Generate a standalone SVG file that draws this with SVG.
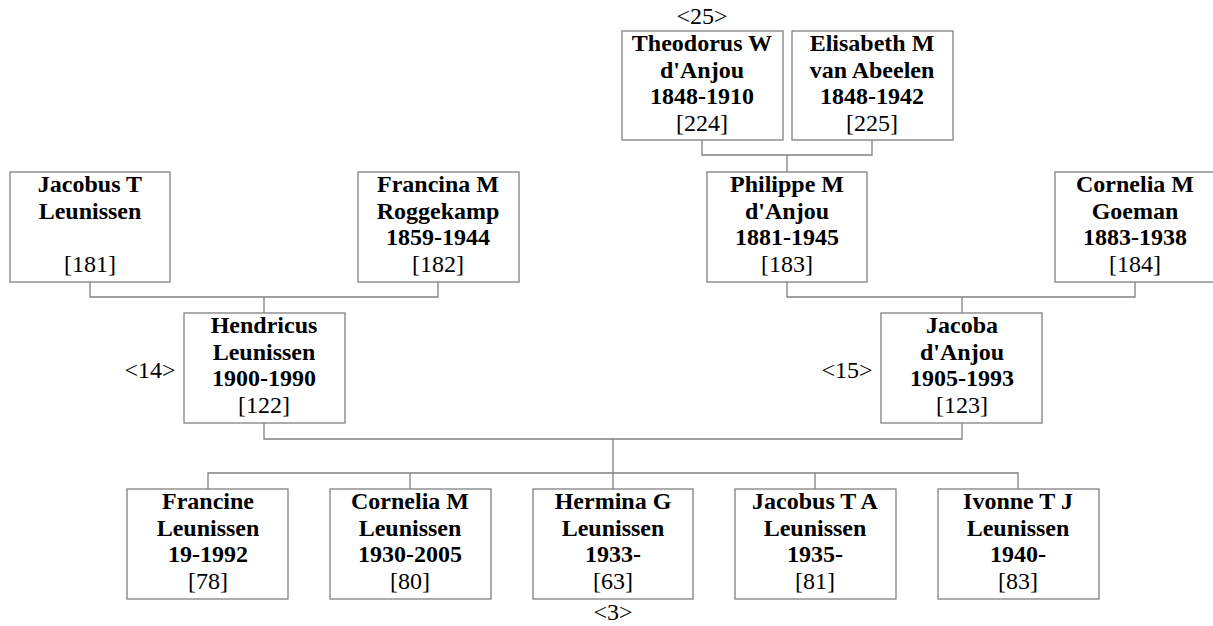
<svg xmlns="http://www.w3.org/2000/svg" width="1213" height="626" viewBox="0 0 1213 626">
<style>
.box{fill:#fff;stroke:#808080;stroke-width:1.3}
.b{font-family:'Liberation Serif','Times New Roman',serif;font-size:24px;font-weight:bold;fill:#000;text-anchor:middle}
.r{font-family:'Liberation Serif','Times New Roman',serif;font-size:24px;fill:#000;text-anchor:middle}
.c{fill:none;stroke:#808080;stroke-width:1.3}
</style>
<rect width="1213" height="626" fill="#fff"/>
<g id="connectors">
<path class="c" d="M702 140V155H872V140M787 155V172"/>
<path class="c" d="M90 282V297H438V282M264 297V313"/>
<path class="c" d="M787 282V297H1135V282M962 297V313"/>
<path class="c" d="M264 423V439H962V423M613 439V489"/>
<path class="c" d="M208 489V473H1018V489M410 473V489M815 473V489"/>
</g>
<g id="n224"><rect class="box" x="622" y="31" width="161" height="109"/>
<text class="b" x="702" y="51">Theodorus W</text><text class="b" x="702" y="78">d'Anjou</text><text class="b" x="702" y="104">1848-1910</text><text class="r" x="702" y="131">[224]</text></g>
<text class="r" x="702" y="24">&lt;25&gt;</text>
<g id="n225"><rect class="box" x="792" y="31" width="161" height="109"/>
<text class="b" x="872" y="51">Elisabeth M</text><text class="b" x="872" y="78">van Abeelen</text><text class="b" x="872" y="104">1848-1942</text><text class="r" x="872" y="131">[225]</text></g>
<g id="n181"><rect class="box" x="10" y="172" width="160" height="110"/>
<text class="b" x="90" y="192">Jacobus T</text><text class="b" x="90" y="219">Leunissen</text><text class="r" x="90" y="272">[181]</text></g>
<g id="n182"><rect class="box" x="358" y="172" width="161" height="110"/>
<text class="b" x="438" y="192">Francina M</text><text class="b" x="438" y="219">Roggekamp</text><text class="b" x="438" y="245">1859-1944</text><text class="r" x="438" y="272">[182]</text></g>
<g id="n183"><rect class="box" x="707" y="172" width="160" height="110"/>
<text class="b" x="787" y="192">Philippe M</text><text class="b" x="787" y="219">d'Anjou</text><text class="b" x="787" y="245">1881-1945</text><text class="r" x="787" y="272">[183]</text></g>
<g id="n184"><rect class="box" x="1055" y="172" width="161" height="110"/>
<text class="b" x="1135" y="192">Cornelia M</text><text class="b" x="1135" y="219">Goeman</text><text class="b" x="1135" y="245">1883-1938</text><text class="r" x="1135" y="272">[184]</text></g>
<g id="n122"><rect class="box" x="184" y="313" width="161" height="110"/>
<text class="b" x="264" y="333">Hendricus</text><text class="b" x="264" y="360">Leunissen</text><text class="b" x="264" y="386">1900-1990</text><text class="r" x="264" y="413">[122]</text></g>
<text class="r" x="150" y="378">&lt;14&gt;</text>
<g id="n123"><rect class="box" x="881" y="313" width="161" height="110"/>
<text class="b" x="962" y="333">Jacoba</text><text class="b" x="962" y="360">d'Anjou</text><text class="b" x="962" y="386">1905-1993</text><text class="r" x="962" y="413">[123]</text></g>
<text class="r" x="847" y="378">&lt;15&gt;</text>
<g id="n78"><rect class="box" x="127" y="489" width="161" height="110"/>
<text class="b" x="208" y="509">Francine</text><text class="b" x="208" y="536">Leunissen</text><text class="b" x="208" y="562">19-1992</text><text class="r" x="208" y="589">[78]</text></g>
<g id="n80"><rect class="box" x="330" y="489" width="161" height="110"/>
<text class="b" x="410" y="509">Cornelia M</text><text class="b" x="410" y="536">Leunissen</text><text class="b" x="410" y="562">1930-2005</text><text class="r" x="410" y="589">[80]</text></g>
<g id="n63"><rect class="box" x="533" y="489" width="160" height="110"/>
<text class="b" x="613" y="509">Hermina G</text><text class="b" x="613" y="536">Leunissen</text><text class="b" x="613" y="562">1933-</text><text class="r" x="613" y="589">[63]</text></g>
<text class="r" x="613" y="620">&lt;3&gt;</text>
<g id="n81"><rect class="box" x="735" y="489" width="161" height="110"/>
<text class="b" x="815" y="509">Jacobus T A</text><text class="b" x="815" y="536">Leunissen</text><text class="b" x="815" y="562">1935-</text><text class="r" x="815" y="589">[81]</text></g>
<g id="n83"><rect class="box" x="938" y="489" width="161" height="110"/>
<text class="b" x="1018" y="509">Ivonne T J</text><text class="b" x="1018" y="536">Leunissen</text><text class="b" x="1018" y="562">1940-</text><text class="r" x="1018" y="589">[83]</text></g>
</svg>
